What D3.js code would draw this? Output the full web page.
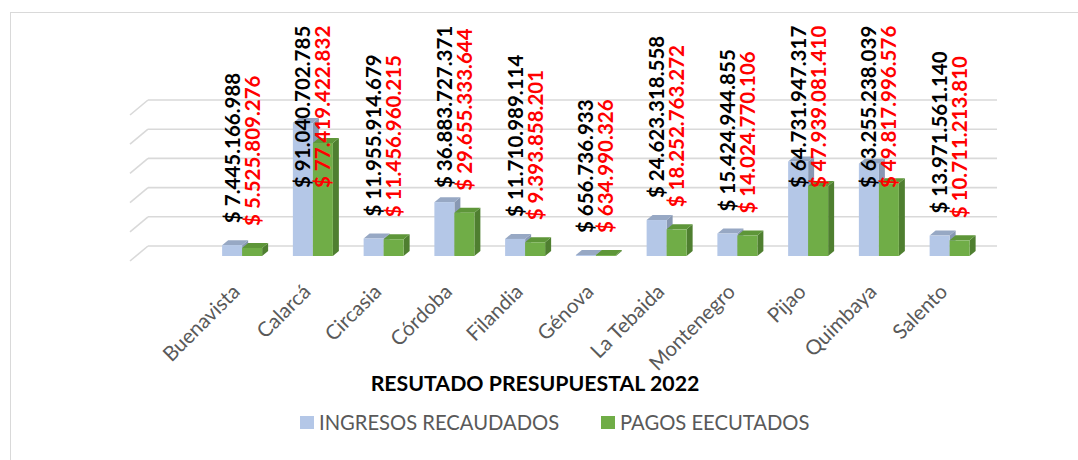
<!DOCTYPE html>
<html><head><meta charset="utf-8">
<script src="https://cdn.jsdelivr.net/npm/d3@7"></script>
<style>body{margin:0;background:#fff;} svg{display:block;}</style>
</head><body><svg id="chart" width="1078" height="460"></svg>
<script>
// ---- data ----
const categories = ["Buenavista","Calarcá","Circasia","Córdoba","Filandia","Génova","La Tebaida","Montenegro","Pijao","Quimbaya","Salento"];
const seriesNames = ["INGRESOS RECAUDADOS","PAGOS EECUTADOS"];
const ingresos = [7445166988, 91040702785, 11955914679, 36883727371, 11710989114, 656736933, 24623318558, 15424944855, 64731947317, 63255238039, 13971561140];
const pagos = [5525809276, 77419422832, 11456960215, 29655333644, 9393858201, 634990326, 18252763272, 14024770106, 47939081410, 49817996576, 10711213810];
const valueTicks = [0, 20e9, 40e9, 60e9, 80e9, 100e9];
const chartTitle = "RESUTADO PRESUPUESTAL 2022";

// ---- layout ----
const W = 1078, H = 460;
const FONT = "Lato, 'Open Sans', sans-serif";
const seriesColors = [
  {front:"#B4C7E7", top:"#97A8C4", side:"#8898B3", label:"#000000"},
  {front:"#70AD47", top:"#5E9639", side:"#4F7F30", label:"#FF0000"}
];
const dU = {dx:6, dy:-5};     // one depth unit of the 3D projection
const labelMaxBase = 188;      // lowest start allowed for large-bar labels

const svg = d3.select("#chart");
svg.append("rect").attr("x",10.5).attr("y",12.5).attr("width",W).attr("height",H)
  .attr("fill","#fff").attr("stroke","#D9D9D9");

// leading empty slot reproduces the empty first category of the original plot area
const x0 = d3.scaleBand().domain([""].concat(categories)).range([136, 985]);
const x1 = d3.scaleBand().domain(seriesNames).range([-20, 20]);
const y = d3.scaleLinear().domain([0, 100e9]).range([256, 110]);

const [plotL, plotR] = x0.range();

// gridlines on back wall + left side wall
const grid = svg.append("g").attr("stroke","#D9D9D9").attr("stroke-width",1.6).attr("fill","none");
valueTicks.forEach(t => {
  const yb = y(t) + 2*dU.dy;
  grid.append("line").attr("x1", plotL + 2*dU.dx).attr("x2", plotR + 2*dU.dx).attr("y1", yb).attr("y2", yb);
  grid.append("line").attr("x1", plotL + 2*dU.dx).attr("y1", yb).attr("x2", plotL - dU.dx).attr("y2", y(t) - dU.dy);
});

const fmt = d3.formatLocale({decimal:",", thousands:".", grouping:[3], currency:["$",""]}).format(",d");
const seriesValues = [ingresos, pagos];

const barsG = svg.append("g");
categories.forEach((cat, i) => {
  const c = x0(cat) + x0.bandwidth()/2;
  seriesNames.forEach((s, k) => {
    const v = seriesValues[k][i];
    const col = seriesColors[k];
    const xl = c + x1(s), w = x1.bandwidth();
    const yt = y(v), yb = y(0);
    const g = barsG.append("g");
    g.append("polygon").attr("fill", col.side)
      .attr("points", [[xl+w,yt],[xl+w+dU.dx,yt+dU.dy],[xl+w+dU.dx,yb+dU.dy],[xl+w,yb]].join(" "));
    g.append("polygon").attr("fill", col.top)
      .attr("points", [[xl,yt],[xl+w,yt],[xl+w+dU.dx,yt+dU.dy],[xl+dU.dx,yt+dU.dy]].join(" "));
    g.append("rect").attr("x", xl).attr("y", yt).attr("width", w).attr("height", yb-yt).attr("fill", col.front);
  });
});

// data labels
const labG = svg.append("g");
categories.forEach((cat, i) => {
  const c = x0(cat) + x0.bandwidth()/2;
  seriesNames.forEach((s, k) => {
    const v = seriesValues[k][i];
    const xc = c + x1(s) + x1.bandwidth()/2;
    const ys = Math.max(y(v) - 22, labelMaxBase);
    labG.append("text")
      .attr("transform", `translate(${xc},${ys}) rotate(-90)`)
      .attr("dy","0.36em")
      .attr("font-family", FONT).attr("font-weight", 700).attr("font-size", 20.5)
      .attr("fill", seriesColors[k].label)
      .text("$ " + fmt(v));
  });
});

// category labels
const catG = svg.append("g");
categories.forEach(cat => {
  const c = x0(cat) + x0.bandwidth()/2;
  catG.append("text")
    .attr("transform", `translate(${c-1},${293}) rotate(-45)`)
    .attr("text-anchor","end")
    .attr("font-family", FONT).attr("font-size", 20.5).attr("fill","#595959")
    .text(cat);
});

// title
svg.append("text").attr("x", 535).attr("y", 391).attr("text-anchor","middle")
  .attr("font-family", FONT).attr("font-weight", 700).attr("font-size", 21.3).attr("fill","#000")
  .text(chartTitle);

// legend
const legendX = [300, 601];
seriesNames.forEach((s, k) => {
  const g = svg.append("g").attr("transform", `translate(${legendX[k]},416)`);
  g.append("rect").attr("width",14).attr("height",13).attr("fill", seriesColors[k].front);
  g.append("text").attr("x",19).attr("y",13.5).attr("font-family", FONT).attr("font-size",20.2)
    .attr("fill","#595959").text(s);
});
</script></body></html>
